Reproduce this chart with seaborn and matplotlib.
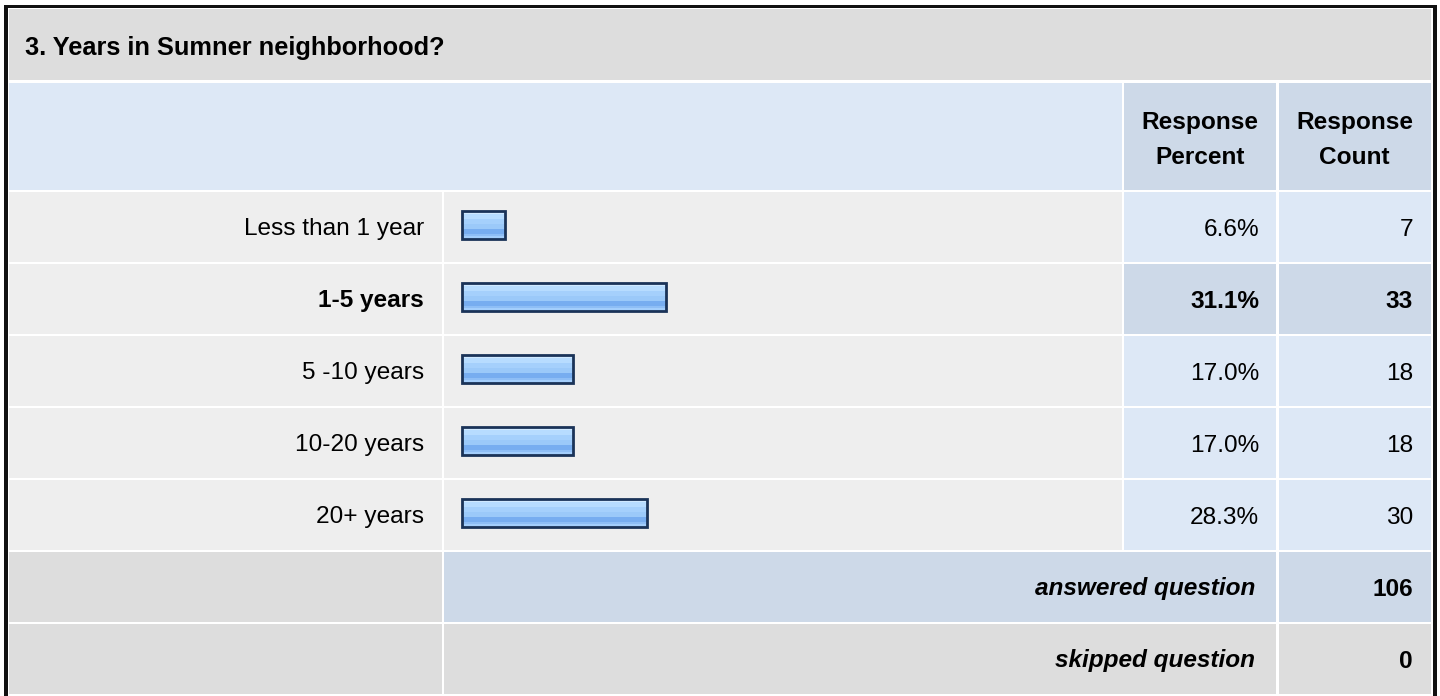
import numpy as np
import pandas as pd
import matplotlib
matplotlib.use("Agg")
import matplotlib.pyplot as plt
from matplotlib.patches import Rectangle
from matplotlib.colors import to_rgb
import seaborn as sns

# -----------------------------
# Data
# -----------------------------
TITLE = "3. Years in Sumner neighborhood?"
categories = ["Less than 1 year", "1-5 years", "5 -10 years", "10-20 years", "20+ years"]
percents = [6.6, 31.1, 17.0, 17.0, 28.3]
counts = [7, 33, 18, 18, 30]
answered = 106
skipped = 0

df = pd.DataFrame({"answer": categories, "percent": percents, "count": counts})
top_row = int(np.argmax(counts))

# -----------------------------
# Style
# -----------------------------
sns.set_theme(style="white")
plt.rcParams["font.family"] = ["Liberation Sans", "DejaVu Sans"]
plt.rcParams["text.color"] = "black"

FS = 17.6
GREY = "#dddddd"
CELL = "#eeeeee"
LIGHT_BLUE = "#dde8f6"
MID_BLUE = "#cdd9e8"

W, H = 1440, 696
fig = plt.figure(figsize=(W / 100, H / 100), dpi=100)

# background axes in pixel units for the table
bg = fig.add_axes([0, 0, 1, 1])
bg.set_xlim(0, W)
bg.set_ylim(H, 0)
bg.axis("off")


def cell(x0, x1, y0, y1, color):
    bg.add_patch(Rectangle((x0, y0), x1 - x0, y1 - y0, facecolor=color,
                           edgecolor="none", zorder=1))


# outer frame
bg.add_patch(Rectangle((4, 5), 1432.5, 700, facecolor="#111111", edgecolor="none", zorder=0))
bg.add_patch(Rectangle((8, 8), 1425.3, 700, facecolor="white", edgecolor="none", zorder=0))

cols = [(9.3, 441.5), (444, 1122), (1124, 1276), (1278.5, 1431)]
ROW0, PITCH, ROWH = 192, 72, 70

# title row
cell(9.3, 1431, 9.3, 80, GREY)
bg.text(25, 55, TITLE, fontsize=18.3, fontweight="bold", ha="left", va="baseline")

# header row
cell(cols[0][0], cols[1][1], 82.5, 189.5, LIGHT_BLUE)
cell(cols[2][0], cols[2][1], 82.5, 189.5, MID_BLUE)
cell(cols[3][0], cols[3][1], 82.5, 189.5, MID_BLUE)
for c, word in [(2, "Percent"), (3, "Count")]:
    xc = (cols[c][0] + cols[c][1]) / 2
    bg.text(xc, 128.5, "Response", fontsize=FS, fontweight="bold", ha="center", va="baseline")
    bg.text(xc, 164.5, word, fontsize=FS, fontweight="bold", ha="center", va="baseline")

# data rows
for i, row in df.iterrows():
    y0 = ROW0 + PITCH * i
    yb = y0 + ROWH / 2 + 8.5
    side = MID_BLUE if i == top_row else LIGHT_BLUE
    weight = "bold" if i == top_row else "normal"
    cell(cols[0][0], cols[0][1], y0, y0 + ROWH, CELL)
    cell(cols[1][0], cols[1][1], y0, y0 + ROWH, CELL)
    cell(cols[2][0], cols[2][1], y0, y0 + ROWH, side)
    cell(cols[3][0], cols[3][1], y0, y0 + ROWH, side)
    bg.text(424, yb, row["answer"], fontsize=FS, fontweight=weight, ha="right", va="baseline")
    bg.text(1259, yb, f"{row['percent']:.1f}%", fontsize=FS, fontweight=weight,
            ha="right", va="baseline")
    bg.text(1413, yb, f"{row['count']}", fontsize=FS, fontweight=weight,
            ha="right", va="baseline")

# answered / skipped rows
summary = [("answered question", answered, MID_BLUE), ("skipped question", skipped, GREY)]
for k, (label, val, color) in enumerate(summary):
    y0 = ROW0 + PITCH * (len(df) + k)
    yb = y0 + ROWH / 2 + 8.5
    cell(cols[0][0], cols[0][1], y0, y0 + ROWH, GREY)
    cell(cols[1][0], cols[2][1], y0, y0 + ROWH, color)
    cell(cols[3][0], cols[3][1], y0, y0 + ROWH, color)
    bg.text(1255, yb, label, fontsize=FS, fontweight="bold", fontstyle="italic",
            ha="right", va="baseline")
    bg.text(1413, yb, f"{val}", fontsize=FS, fontweight="bold", ha="right", va="baseline")

# -----------------------------
# Bars
# -----------------------------
PX_PER_PCT = 6.55
BAR_X0 = 462
ax_top = 189
ax = fig.add_axes([444 / W, 1 - (ax_top + 5 * PITCH) / H, 678 / W, 5 * PITCH / H])
ax.patch.set_alpha(0)

sns.barplot(data=df, x="percent", y="answer", orient="h", width=0.38,
            color="#9ac8f9", edgecolor="#1a3358", linewidth=2.0, ax=ax)

bands = ["#d0e9ff", "#b7dcff", "#b7dcff", "#a5d0fc", "#a5d0fc", "#9bc9f9",
         "#9bc9f9", "#77adf0", "#77adf0", "#8ebef6", "#a3cefc"]
grad = np.array([to_rgb(c) for c in bands])[:, None, :]

for p in ax.patches:
    x0, y0 = p.get_x(), p.get_y()
    w, h = p.get_width(), p.get_height()
    im = ax.imshow(grad, extent=(x0, x0 + w, y0 + h, y0), aspect="auto",
                   interpolation="nearest", zorder=2)
    im.set_clip_path(p)
    p.set_facecolor("none")
    p.set_zorder(3)

ax.set_xlim((444 - BAR_X0) / PX_PER_PCT, (1122 - BAR_X0) / PX_PER_PCT)
ax.set_ylim(4.5, -0.5)
ax.axis("off")

fig.savefig("out.png", dpi=100)
